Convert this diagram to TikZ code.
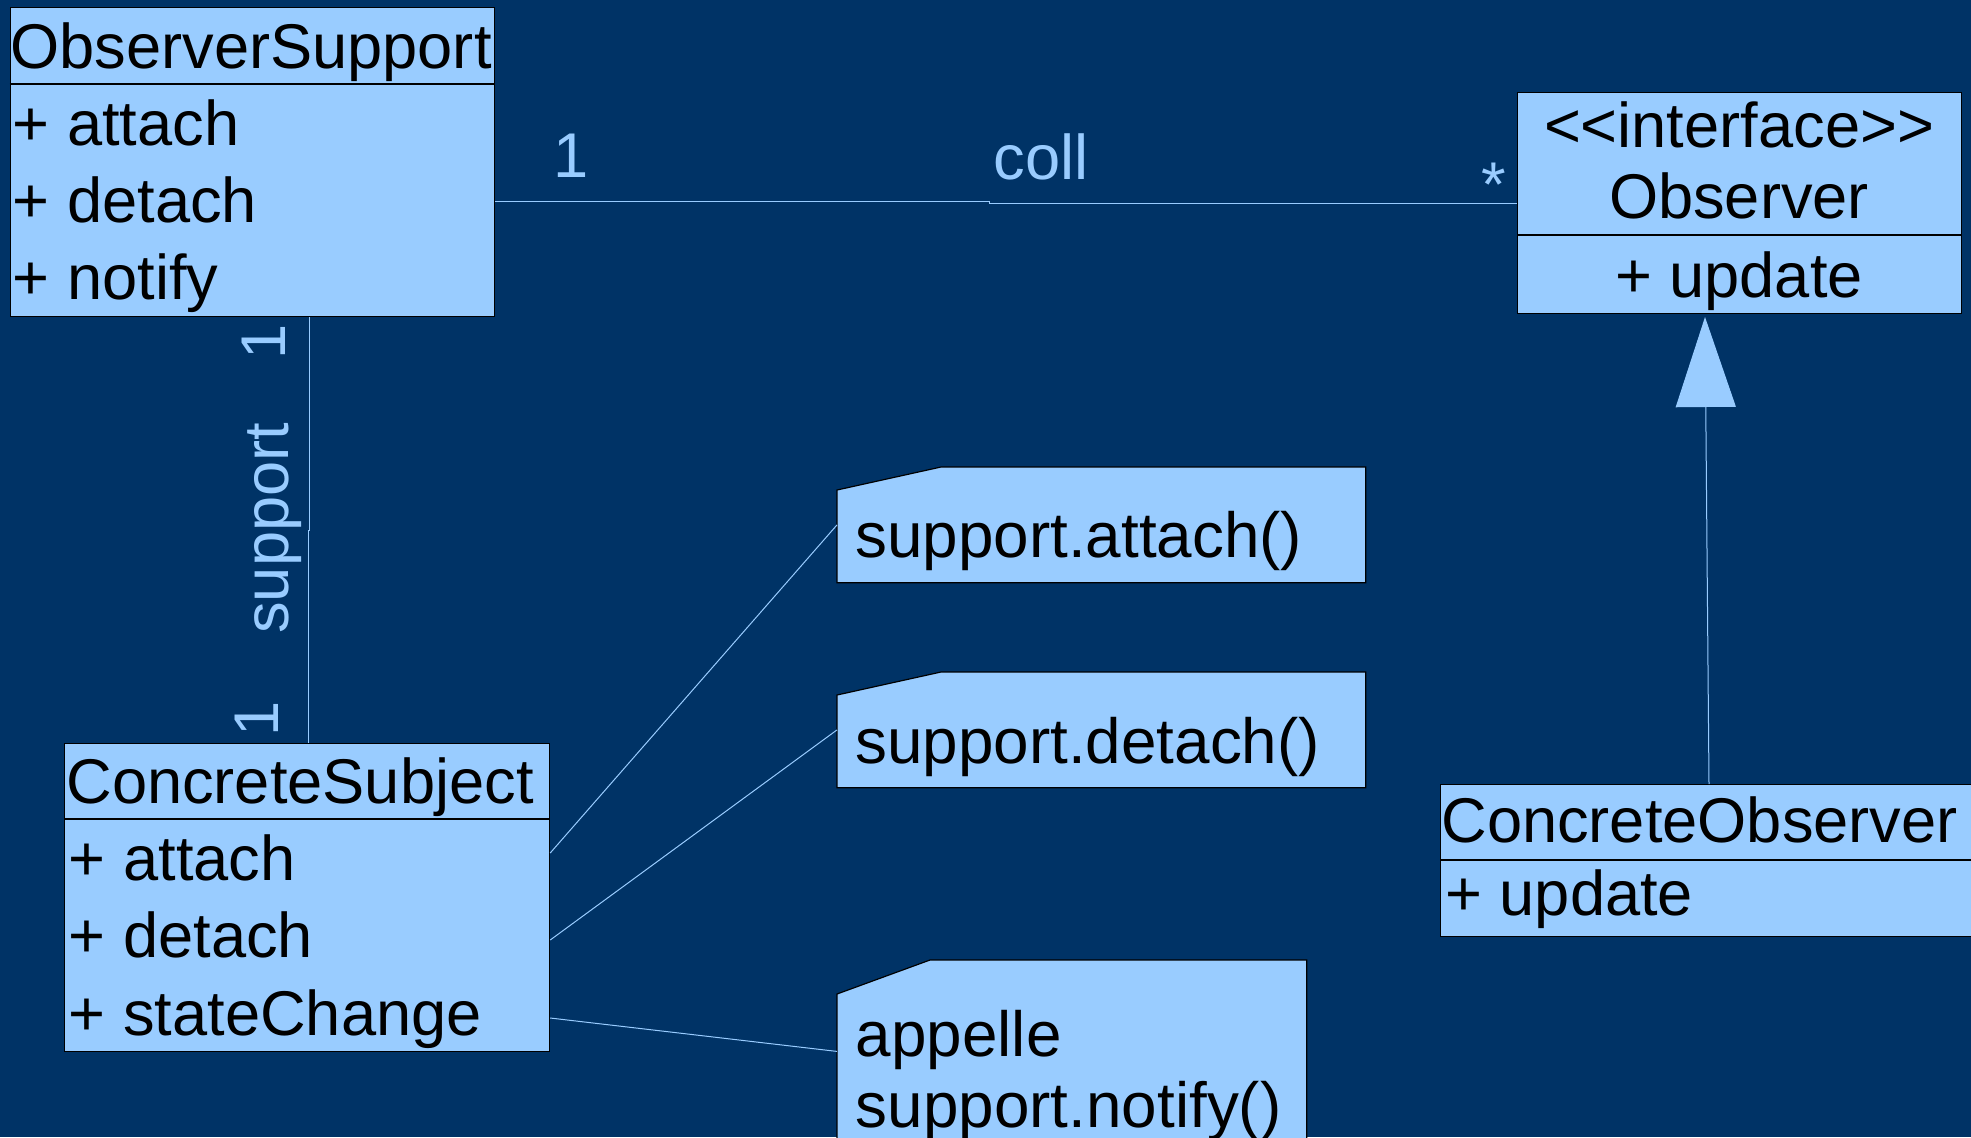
\documentclass[tikz,border=0pt]{standalone}
\usepackage{fontspec}
\setmainfont{Liberation Sans}
\usetikzlibrary{arrows.meta}
\definecolor{bgnavy}{HTML}{003366}
\definecolor{boxblue}{HTML}{99CCFF}
\begin{document}
\begin{tikzpicture}[x=0.5pt,y=-0.5pt,
  classbox/.style={draw=black, line width=0.6pt, fill=boxblue, rectangle,
                   inner sep=0pt, anchor=north west},
  notearea/.style={rectangle, inner sep=0pt, anchor=north west},
  noteshape/.style={draw=black, line width=0.6pt, fill=boxblue},
  txt/.style={anchor=base west, inner sep=0pt,
              font=\fontsize{31.6pt}{38pt}\selectfont, text=black},
  notetxt/.style={txt, font=\fontsize{31.9pt}{38pt}\selectfont},
  ctxt/.style={txt, anchor=base},
  lbl/.style={txt, text=boxblue},
  link/.style={draw=boxblue, line width=0.5pt},
  divider/.style={draw=black, line width=0.6pt}]

\useasboundingbox (0,0) rectangle (1971,1137);
\begin{scope}
\clip (0,0) rectangle (1971,1137);
\fill[bgnavy] (0,0) rectangle (1971,1137);

% class boxes
\node[classbox, minimum width=242.25pt, minimum height=154.5pt] (os) at (9.5,7) {};
\node[classbox, minimum width=222pt, minimum height=110.5pt] (obs) at (1517,92) {};
\node[classbox, minimum width=242.5pt, minimum height=154pt] (cs) at (64,743) {};
\node[classbox, minimum width=280pt, minimum height=76pt] (co) at (1440,784) {};

\draw[divider] (os.west |- 0,84) -- (os.east |- 0,84);
\draw[divider] (obs.west |- 0,235) -- (obs.east |- 0,235);
\draw[divider] (cs.west |- 0,819) -- (cs.east |- 0,819);
\draw[divider] (co.west |- 0,860) -- (co.east |- 0,860);

% class texts
\node[txt] (os-name) at (10,68) {ObserverSupport};
\node[txt] (os-attach) at (12.4,145) {+ attach};
\node[txt] (os-detach) at (12.4,222) {+ detach};
\node[txt] (os-notify) at (12.4,299) {+ notify};

\node[ctxt] (obs-stereo) at (1739,147) {<\kern0pt<interface>\kern0pt>};
\node[ctxt] (obs-name) at (1739,218) {Observer};
\node[ctxt] (obs-update) at (1739,297) {+ update};

\node[txt] (cs-name) at (66,803) {ConcreteSubject};
\node[txt] (cs-attach) at (68.5,880) {+ attach};
\node[txt] (cs-detach) at (68.5,957) {+ detach};
\node[txt] (cs-state) at (68.5,1035) {+ stateChange};

\node[txt] (co-name) at (1441,842) {ConcreteObserver};
\node[txt] (co-update) at (1445,915) {+ update};

% notes with a cut corner
\node[notearea, minimum width=264pt, minimum height=57.5pt] (n1) at (837,467) {};
\node[notearea, minimum width=264pt, minimum height=57.5pt] (n2) at (837,672) {};
\node[notearea, minimum width=234.5pt, minimum height=91pt] (n3) at (837,960) {};
\foreach \n/\dx/\dy in {n1/52pt/11.5pt, n2/52pt/11.5pt, n3/46.5pt/17pt}{
  \path[noteshape] ([yshift=-\dy]\n.north west) -- ([xshift=\dx]\n.north west)
     -- (\n.north east) -- (\n.south east) -- (\n.south west) -- cycle;
}
\node[notetxt] (n1-text) at (855,557) {support.attach()};
\node[notetxt] (n2-text) at (855,763) {support.detach()};
\node[notetxt] (n3-text1) at (855.5,1056) {appelle};
\node[notetxt] (n3-text2) at (855.5,1127) {support.notify()};

% association coll
\draw[link] (os.east |- 0,201) -- (989,201) -- (989,203.7) -- (obs.west |- 0,203.7);
\node[lbl] (coll-one) at (553,177) {1};
\node[lbl] (coll-name) at (993,179) {coll};
\node[lbl] (coll-many) at (1481,206) {*};

% association support
\draw[link] (os.south -| 309,0) -- (309,530) -- (308,530) -- (cs.north -| 308,0);
\node[lbl, rotate=90] (sup-one-top) at (285,360) {1};
\node[lbl, rotate=90] (sup-name) at (288,634) {support};
\node[lbl, rotate=90] (sup-one-bot) at (278,737) {1};

% realization of the interface
\coordinate (genapex) at (1705,317);
\draw[link, -{Triangle[length=45pt, width=30pt, fill=boxblue]}]
  (co.north -| 1709,0) -- (genapex);

% note links
\draw[link] (cs.east |- 0,853) -- (n1.west);
\draw[link] (cs.east |- 0,940) -- (n2.west);
\draw[link] (cs.east |- 0,1018) -- (n3.west);
\end{scope}
\end{tikzpicture}
\end{document}
